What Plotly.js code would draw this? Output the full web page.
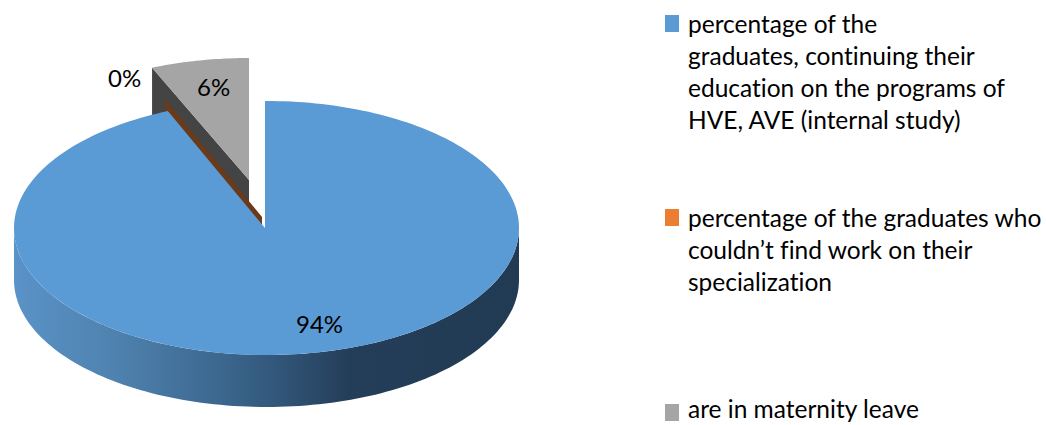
<!DOCTYPE html>
<html>
<head>
<meta charset="utf-8">
<script src="https://cdn.plot.ly/plotly-3.0.1.min.js"></script>
<style>html,body{margin:0;padding:0;background:#fff}#chart{width:1046px;height:425px}
#chart text,#chart tspan{font-variant-ligatures:none;font-feature-settings:"liga" 0,"clig" 0,"dlig" 0;text-rendering:optimizeSpeed}</style>
</head>
<body>
<div id="chart"></div>
<script>
// ---- data ----
const categories = [
  "percentage of the<br>graduates, continuing their<br>education on the programs of<br>HVE, AVE (internal study)",
  "percentage of the graduates who<br>couldn’t find work on their<br>specialization",
  "are in maternity leave"
];
const shares = [94, 0, 6];
const topColors = ["#5B9BD5", "#ED7D31", "#A5A5A5"];
const wallColors = ["#233C56", "#6B3A18", "#444444"];

// ---- layout geometry (pixel-scaled axes) ----
const FONT = "Lato, 'Open Sans', sans-serif";
const FS = 24;
const LEGEND_FS = 24.5;
const blue = {cx: 266.5, cy: 228, rx: 252.5, ry: 127, ax: 265, ay: 228};
const orange = {ax: 262, ay: 217, rx: 248, ry: 128};
const gray = {ax: 249, ay: 180, rx: 248, ry: 122};
const depth = 52;
const perspective = 1.065;
const rad = d => d * Math.PI / 180;
const cutAngle = 360 - shares[2] * 3.6 * perspective; // end of slice 1 / start of slice 3

function arcPts(g, a0, a1, dy, n) {
  const xs = [], ys = [];
  for (let i = 0; i <= n; i++) {
    const a = rad(a0 + (a1 - a0) * i / n);
    xs.push(g.cx + g.rx * Math.sin(a));
    ys.push(g.cy - g.ry * Math.cos(a) + dy);
  }
  return [xs, ys];
}
function poly(xs, ys, color, name, extra) {
  return Object.assign({type: "scatter", mode: "none", x: xs.concat(xs[0]), y: ys.concat(ys[0]),
    fill: "toself", fillcolor: color, name: name, hoverinfo: "skip", showlegend: false}, extra || {});
}
function cutWall(s, color, name) {
  const ox = s.ax + s.rx * Math.sin(rad(cutAngle));
  const oy = s.ay - s.ry * Math.cos(rad(cutAngle));
  return [poly([ox, s.ax, s.ax, ox], [oy, s.ay, s.ay + depth, oy + depth], color, name), ox, oy];
}

const traces = [];
// gray slice: wall, then top
const [gWall, gox, goy] = cutWall(gray, wallColors[2], "wall 3");
traces.push(gWall);
(function () {
  const g = {cx: gray.ax, cy: gray.ay, rx: gray.rx, ry: gray.ry};
  const [xs, ys] = arcPts(g, cutAngle, 360, 0, 30);
  traces.push(poly(xs.concat(gray.ax), ys.concat(gray.ay), topColors[2], "slice 3"));
})();
// orange slice (0%): only its wall shows
traces.push(cutWall(orange, wallColors[1], "wall 2")[0]);
// blue wall with gradient
(function () {
  const [xt, yt] = arcPts(blue, 90, 270, 0, 120);
  const [xb, yb] = arcPts(blue, 270, 90, depth, 120);
  traces.push(poly(xt.concat(xb), yt.concat(yb), "#233C56", "wall 1", {
    fillgradient: {type: "horizontal", colorscale: [
      [0, "#5A93C8"], [0.2, "#4F82AE"], [0.37, "#3F6C95"], [0.5, "#345A7E"], [0.66, "#243E5A"], [1, "#223B53"]
    ]}
  }));
})();
// blue top
(function () {
  const [xs, ys] = arcPts(blue, 0, cutAngle, 0, 240);
  traces.push(poly([blue.ax, blue.ax].concat(xs), [blue.ay, blue.cy - blue.ry].concat(ys), topColors[0], "slice 1"));
})();

const labelPos = [[319.5, 323], [124, 77], [213, 86]];
const legendText = [[687, 8], [687, 202], [687, 393]];
const legendBox = [[665, 15], [665, 209], [665, 404]];

const annotations = [];
shares.forEach((v, i) => annotations.push({
  x: labelPos[i][0], y: labelPos[i][1], xref: "x", yref: "y", text: v + "%", showarrow: false,
  xanchor: "center", yanchor: "middle", font: {family: FONT, size: FS, color: "#000"}
}));
categories.forEach((t, i) => annotations.push({
  x: legendText[i][0], y: legendText[i][1], xref: "x", yref: "y", text: t, showarrow: false,
  xanchor: "left", yanchor: "top", align: "left", borderpad: 0,
  font: {family: FONT, size: LEGEND_FS, color: "#000"}
}));
const shapes = legendBox.map((b, i) => ({
  type: "rect", xref: "x", yref: "y", x0: b[0], x1: b[0] + 14, y0: b[1], y1: b[1] + 17,
  fillcolor: topColors[i], line: {width: 0}
}));

Plotly.newPlot("chart", traces, {
  width: 1046, height: 425, margin: {l: 0, r: 0, t: 0, b: 0},
  paper_bgcolor: "#fff", plot_bgcolor: "#fff", showlegend: false,
  xaxis: {range: [0, 1046], visible: false, fixedrange: true},
  yaxis: {range: [425, 0], visible: false, fixedrange: true},
  annotations: annotations, shapes: shapes
}, {displayModeBar: false, staticPlot: true});
</script>
</body>
</html>
